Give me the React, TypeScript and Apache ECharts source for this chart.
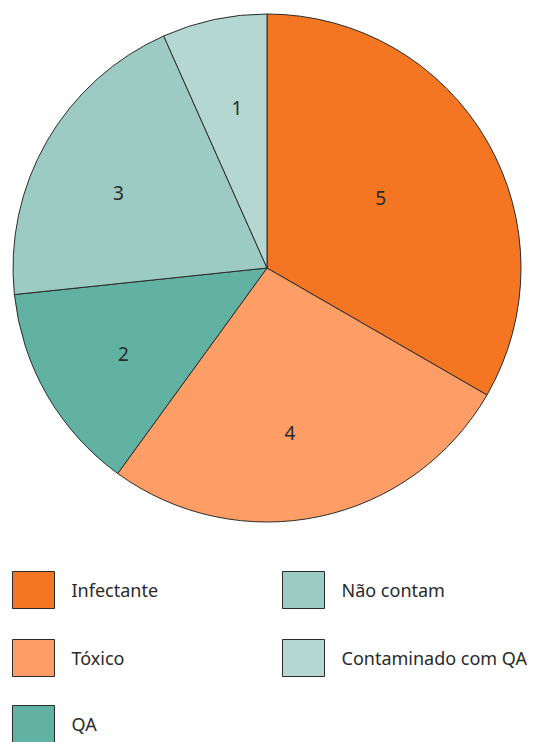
import React, { useEffect, useRef } from "react";
import * as echarts from "echarts";

// Waste categories and their counts
const categories = ["Infectante", "Tóxico", "QA", "Não contam", "Contaminado com QA"];
const counts = [5, 4, 2, 3, 1];
const colors = ["#F47622", "#FF9D66", "#62B2A4", "#9BCBC3", "#B4D8D1"];

// Legend grid: column and row of each category
const legendColumn = [0, 0, 0, 1, 1];
const legendRow = [0, 1, 2, 0, 1];

// Nudges for the value labels inside each slice (pixels)
const labelOffsets: [number, number][] = [
  [1, -5],
  [-4, 38],
  [-31, 21],
  [-36, -10],
  [-3, -33],
];

const FONT = "'Noto Sans', 'Open Sans', sans-serif";
const TEXT = "#2a2a2a";
const EDGE = "#2b2b2b";

export default function App() {
  const ref = useRef<HTMLDivElement>(null);

  useEffect(() => {
    if (!ref.current) return;
    const chart = echarts.init(ref.current, undefined, { renderer: "svg" });

    const colLeft = [12, 282];
    const rowTop = [571, 639, 705];

    const legends = categories.map((name, i) => ({
      orient: "horizontal" as const,
      icon: "rect",
      padding: 0,
      left: colLeft[legendColumn[i]],
      top: rowTop[legendRow[i]],
      itemWidth: 42,
      itemHeight: 37,
      selectedMode: false,
      data: [name],
      itemStyle: { borderColor: EDGE, borderWidth: 1 },
      textStyle: {
        fontFamily: FONT,
        fontSize: 18,
        color: TEXT,
        padding: [0, 0, 0, 12],
      },
    }));

    chart.setOption({
      animation: false,
      backgroundColor: "#ffffff",
      legend: legends,
      series: [
        {
          type: "pie",
          center: [267, 268],
          radius: [0, 254],
          startAngle: 90,
          clockwise: true,
          avoidLabelOverlap: false,
          itemStyle: { borderColor: EDGE, borderWidth: 1 },
          emphasis: { disabled: true },
          label: {
            show: true,
            position: "inside",
            formatter: "{c}",
            fontFamily: FONT,
            fontSize: 19,
            color: TEXT,
          },
          labelLine: { show: false },
          data: categories.map((name, i) => ({
            name,
            value: counts[i],
            itemStyle: { color: colors[i] },
            label: { offset: labelOffsets[i] },
          })),
        },
      ],
    });

    return () => chart.dispose();
  }, []);

  return (
    <div
      ref={ref}
      style={{ position: "absolute", left: 0, top: 0, width: 543, height: 742 }}
    />
  );
}
